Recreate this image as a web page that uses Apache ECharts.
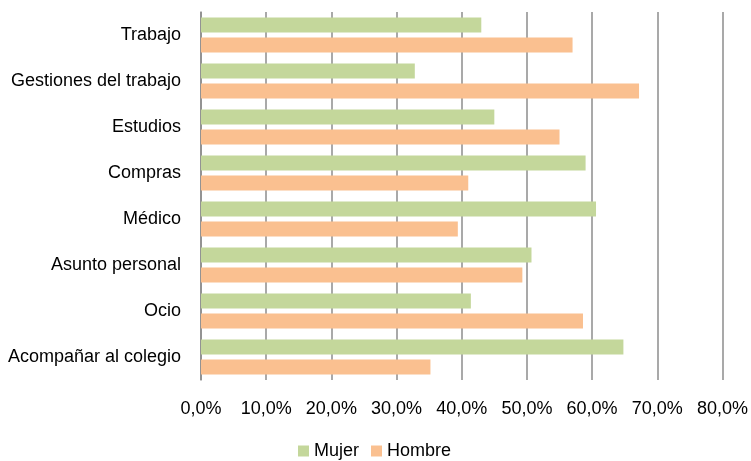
<!DOCTYPE html>
<html>
<head>
<meta charset="utf-8">
<script src="https://cdn.jsdelivr.net/npm/echarts@6/dist/echarts.min.js"></script>
<style>
  html, body { margin: 0; padding: 0; background: #fff; }
  #chart { width: 751px; height: 461px; }
</style>
</head>
<body>
<div id="chart"></div>
<script>
// categorías (de arriba abajo)
const categorias = ['Trabajo', 'Gestiones del trabajo', 'Estudios', 'Compras', 'Médico', 'Asunto personal', 'Ocio', 'Acompañar al colegio']
// porcentajes por sexo
const mujer  = [43.0, 32.8, 45.0, 59.0, 60.6, 50.7, 41.4, 64.8]
const hombre = [57.0, 67.2, 55.0, 41.0, 39.4, 49.3, 58.6, 35.2]
const series_nombres = ['Mujer', 'Hombre']

const FONT = '"Liberation Sans", Arial, sans-serif'
const chart = echarts.init(document.getElementById('chart'))

chart.setOption({
  animation: false,
  textStyle: { fontFamily: FONT },
  grid: { left: 201, right: 27, top: 12, bottom: 81, containLabel: false },
  legend: {
    data: series_nombres,
    left: 298, top: 442, padding: 0,
    itemWidth: 11, itemHeight: 11, itemGap: 12,
    icon: 'rect',
    textStyle: { fontFamily: FONT, fontSize: 18, color: '#000', lineHeight: 18 }
  },
  xAxis: {
    type: 'value', min: 0, max: 80, interval: 10,
    axisLine: { show: false },
    axisTick: { show: false },
    splitLine: { show: true, lineStyle: { color: '#8c8c8c', width: 1.5 } },
    axisLabel: {
      margin: 20, fontSize: 18, color: '#000', fontFamily: FONT,
      formatter: v => v.toFixed(1).replace('.', ',') + '%'
    }
  },
  yAxis: {
    type: 'category', data: categorias, inverse: true,
    axisLine: { show: true, lineStyle: { color: '#8c8c8c', width: 1.5 } },
    axisTick: { show: false },
    axisLabel: { margin: 20, fontSize: 18, color: '#000', fontFamily: FONT }
  },
  series: [
    { name: 'Mujer', type: 'bar', data: mujer, barWidth: 15, barGap: '33%',
      itemStyle: { color: '#c4d79b' } },
    { name: 'Hombre', type: 'bar', data: hombre, barWidth: 15,
      itemStyle: { color: '#fac090' } }
  ]
})
</script>
</body>
</html>
